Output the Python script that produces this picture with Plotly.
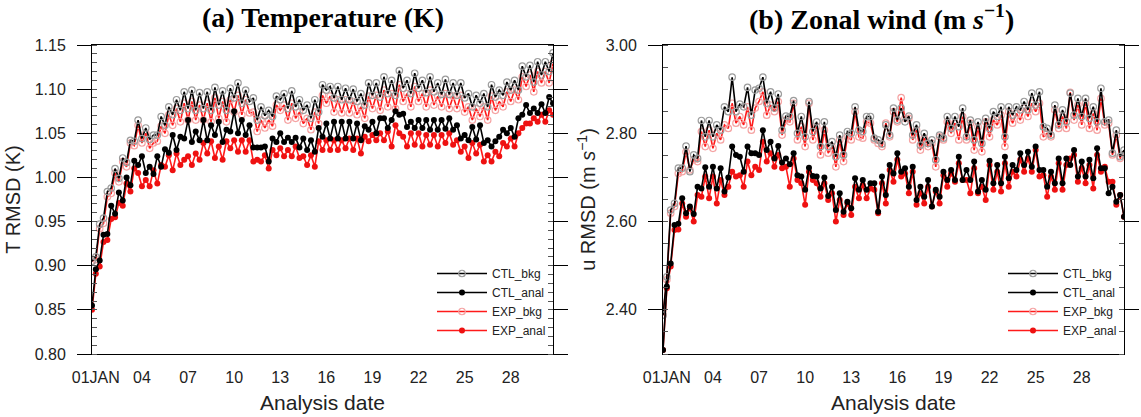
import pandas as pd
import plotly.graph_objects as go
from plotly.subplots import make_subplots

# 6-hourly analysis times (121 cycles)
times = pd.date_range("2020-12-31 18:00", periods=121, freq="6h")
tick_dates = ["2021-01-01", "2021-01-04", "2021-01-07", "2021-01-10", "2021-01-13",
              "2021-01-16", "2021-01-19", "2021-01-22", "2021-01-25", "2021-01-28"]
tick_labels = ["01JAN", "04", "07", "10", "13", "16", "19", "22", "25", "28"]
series_names = ["CTL_bkg", "CTL_anal", "EXP_bkg", "EXP_anal"]

# (a) Temperature RMSD (K)
t_ctl_bkg = [0.905, 0.910, 0.947, 0.954, 0.984, 0.988, 1.010, 0.999, 1.022, 1.017,
             1.042, 1.041, 1.065, 1.044, 1.056, 1.043, 1.048, 1.048, 1.069, 1.059,
             1.080, 1.071, 1.088, 1.076, 1.097, 1.078, 1.099, 1.076, 1.096, 1.078,
             1.097, 1.076, 1.102, 1.082, 1.098, 1.076, 1.101, 1.090, 1.107, 1.084,
             1.099, 1.086, 1.090, 1.065, 1.080, 1.070, 1.076, 1.069, 1.092, 1.088,
             1.095, 1.078, 1.098, 1.080, 1.088, 1.076, 1.082, 1.067, 1.088, 1.074,
             1.105, 1.099, 1.103, 1.090, 1.103, 1.088, 1.101, 1.088, 1.100, 1.086,
             1.095, 1.082, 1.107, 1.093, 1.107, 1.091, 1.114, 1.095, 1.110, 1.093,
             1.121, 1.101, 1.110, 1.095, 1.118, 1.101, 1.110, 1.096, 1.114, 1.097,
             1.107, 1.094, 1.111, 1.094, 1.107, 1.093, 1.107, 1.090, 1.095, 1.080,
             1.093, 1.084, 1.095, 1.080, 1.105, 1.091, 1.099, 1.093, 1.108, 1.099,
             1.110, 1.099, 1.126, 1.114, 1.127, 1.108, 1.131, 1.116, 1.131, 1.120,
             1.141]
t_ctl_anal = [0.855, 0.896, 0.906, 0.935, 0.936, 0.968, 0.959, 0.983, 0.974, 1.000,
              0.991, 1.019, 1.014, 1.024, 1.005, 1.012, 1.004, 1.024, 1.012, 1.032,
              1.028, 1.048, 1.031, 1.046, 1.044, 1.065, 1.040, 1.052, 1.042, 1.065,
              1.042, 1.059, 1.048, 1.063, 1.040, 1.054, 1.052, 1.075, 1.050, 1.065,
              1.048, 1.059, 1.034, 1.034, 1.034, 1.035, 1.018, 1.044, 1.040, 1.050,
              1.040, 1.045, 1.040, 1.045, 1.034, 1.044, 1.031, 1.042, 1.029, 1.056,
              1.046, 1.061, 1.044, 1.063, 1.044, 1.063, 1.044, 1.063, 1.044, 1.061,
              1.042, 1.058, 1.054, 1.063, 1.050, 1.067, 1.067, 1.056, 1.065, 1.075,
              1.071, 1.072, 1.057, 1.063, 1.056, 1.065, 1.056, 1.065, 1.054, 1.065,
              1.054, 1.065, 1.055, 1.067, 1.054, 1.059, 1.044, 1.048, 1.042, 1.057,
              1.043, 1.059, 1.039, 1.042, 1.035, 1.041, 1.046, 1.054, 1.050, 1.056,
              1.046, 1.067, 1.071, 1.082, 1.073, 1.078, 1.073, 1.083, 1.073, 1.091,
              1.084]
t_exp_bkg = [0.905, 0.907, 0.942, 0.948, 0.978, 0.982, 1.005, 0.995, 1.018, 1.012,
             1.039, 1.036, 1.059, 1.039, 1.050, 1.033, 1.039, 1.041, 1.058, 1.050,
             1.071, 1.059, 1.078, 1.063, 1.084, 1.065, 1.086, 1.065, 1.082, 1.065,
             1.084, 1.063, 1.090, 1.067, 1.086, 1.063, 1.088, 1.074, 1.093, 1.071,
             1.088, 1.073, 1.074, 1.052, 1.065, 1.056, 1.065, 1.058, 1.082, 1.076,
             1.082, 1.065, 1.084, 1.067, 1.074, 1.061, 1.067, 1.054, 1.074, 1.061,
             1.093, 1.084, 1.092, 1.074, 1.088, 1.073, 1.088, 1.073, 1.086, 1.071,
             1.080, 1.067, 1.092, 1.078, 1.093, 1.076, 1.099, 1.080, 1.095, 1.078,
             1.105, 1.086, 1.095, 1.080, 1.103, 1.086, 1.095, 1.080, 1.099, 1.082,
             1.092, 1.080, 1.095, 1.078, 1.092, 1.078, 1.093, 1.074, 1.080, 1.065,
             1.078, 1.069, 1.080, 1.065, 1.092, 1.076, 1.086, 1.080, 1.097, 1.086,
             1.099, 1.088, 1.114, 1.103, 1.116, 1.097, 1.120, 1.107, 1.120, 1.107,
             1.129]
t_exp_anal = [0.850, 0.891, 0.899, 0.927, 0.929, 0.953, 0.955, 0.971, 0.968, 0.993,
              0.984, 1.010, 1.005, 0.990, 0.997, 0.990, 1.008, 0.993, 1.014, 1.012,
              1.025, 1.008, 1.027, 1.014, 1.020, 1.024, 1.014, 1.027, 1.020, 1.039,
              1.027, 1.041, 1.022, 1.035, 1.020, 1.041, 1.033, 1.042, 1.029, 1.042,
              1.029, 1.042, 1.018, 1.020, 1.018, 1.025, 1.010, 1.031, 1.025, 1.033,
              1.024, 1.031, 1.024, 1.035, 1.022, 1.024, 1.014, 1.025, 1.012, 1.041,
              1.031, 1.042, 1.031, 1.042, 1.031, 1.042, 1.033, 1.044, 1.031, 1.044,
              1.027, 1.046, 1.041, 1.048, 1.042, 1.050, 1.042, 1.052, 1.035, 1.059,
              1.050, 1.046, 1.035, 1.050, 1.037, 1.050, 1.035, 1.048, 1.037, 1.048,
              1.035, 1.048, 1.039, 1.050, 1.037, 1.042, 1.029, 1.035, 1.022, 1.039,
              1.027, 1.037, 1.018, 1.025, 1.018, 1.029, 1.024, 1.039, 1.035, 1.044,
              1.035, 1.050, 1.056, 1.061, 1.061, 1.067, 1.063, 1.071, 1.063, 1.076,
              1.071]

# (b) Zonal wind RMSD (m s-1)
u_ctl_bkg = [2.388, 2.475, 2.626, 2.641, 2.721, 2.721, 2.771, 2.713, 2.751, 2.743,
             2.829, 2.792, 2.829, 2.792, 2.819, 2.807, 2.860, 2.849, 2.927, 2.849,
             2.866, 2.860, 2.904, 2.841, 2.898, 2.902, 2.927, 2.868, 2.894, 2.857,
             2.889, 2.807, 2.839, 2.838, 2.874, 2.800, 2.838, 2.792, 2.872, 2.804,
             2.826, 2.770, 2.826, 2.770, 2.781, 2.747, 2.796, 2.751, 2.804, 2.800,
             2.860, 2.807, 2.804, 2.838, 2.838, 2.789, 2.785, 2.776, 2.819, 2.796,
             2.857, 2.830, 2.857, 2.826, 2.839, 2.796, 2.819, 2.773, 2.800, 2.777,
             2.785, 2.740, 2.796, 2.789, 2.838, 2.811, 2.838, 2.815, 2.857, 2.792,
             2.830, 2.785, 2.826, 2.777, 2.834, 2.811, 2.849, 2.838, 2.860, 2.792,
             2.860, 2.841, 2.860, 2.853, 2.872, 2.853, 2.891, 2.864, 2.894, 2.815,
             2.811, 2.796, 2.864, 2.819, 2.853, 2.826, 2.891, 2.841, 2.879, 2.838,
             2.879, 2.834, 2.860, 2.826, 2.902, 2.826, 2.830, 2.755, 2.807, 2.747,
             2.762]
u_ctl_anal = [2.309, 2.453, 2.505, 2.592, 2.595, 2.653, 2.619, 2.634, 2.617, 2.679,
              2.675, 2.723, 2.679, 2.724, 2.675, 2.721, 2.668, 2.700, 2.770, 2.751,
              2.747, 2.713, 2.770, 2.755, 2.755, 2.751, 2.807, 2.762, 2.781, 2.743,
              2.771, 2.734, 2.743, 2.730, 2.755, 2.705, 2.702, 2.672, 2.722, 2.703,
              2.702, 2.675, 2.700, 2.658, 2.679, 2.626, 2.664, 2.622, 2.645, 2.630,
              2.698, 2.672, 2.694, 2.672, 2.687, 2.687, 2.622, 2.702, 2.660, 2.728,
              2.709, 2.755, 2.713, 2.721, 2.679, 2.724, 2.649, 2.679, 2.656, 2.694,
              2.634, 2.672, 2.656, 2.713, 2.694, 2.717, 2.694, 2.747, 2.694, 2.717,
              2.694, 2.736, 2.668, 2.694, 2.672, 2.738, 2.687, 2.728, 2.687, 2.747,
              2.698, 2.728, 2.717, 2.755, 2.728, 2.758, 2.724, 2.770, 2.717, 2.717,
              2.679, 2.713, 2.687, 2.743, 2.687, 2.743, 2.728, 2.762, 2.702, 2.736,
              2.702, 2.740, 2.698, 2.766, 2.721, 2.721, 2.664, 2.679, 2.645, 2.660,
              2.611]
u_exp_bkg = [2.388, 2.468, 2.619, 2.634, 2.709, 2.713, 2.758, 2.717, 2.740, 2.736,
             2.804, 2.770, 2.807, 2.766, 2.800, 2.785, 2.819, 2.811, 2.868, 2.823,
             2.838, 2.819, 2.860, 2.807, 2.857, 2.872, 2.894, 2.841, 2.864, 2.849,
             2.872, 2.796, 2.830, 2.826, 2.868, 2.785, 2.815, 2.770, 2.868, 2.785,
             2.815, 2.751, 2.807, 2.755, 2.770, 2.724, 2.785, 2.736, 2.792, 2.785,
             2.849, 2.792, 2.789, 2.826, 2.823, 2.785, 2.777, 2.770, 2.823, 2.792,
             2.849, 2.826, 2.881, 2.834, 2.834, 2.785, 2.807, 2.762, 2.789, 2.770,
             2.777, 2.724, 2.792, 2.785, 2.826, 2.800, 2.823, 2.785, 2.838, 2.785,
             2.823, 2.762, 2.815, 2.758, 2.826, 2.792, 2.830, 2.819, 2.841, 2.770,
             2.849, 2.823, 2.845, 2.830, 2.857, 2.838, 2.868, 2.849, 2.868, 2.792,
             2.800, 2.792, 2.853, 2.811, 2.838, 2.811, 2.893, 2.830, 2.864, 2.819,
             2.868, 2.811, 2.845, 2.807, 2.879, 2.819, 2.823, 2.751, 2.796, 2.743,
             2.751]
u_exp_anal = [2.309, 2.449, 2.498, 2.581, 2.582, 2.641, 2.611, 2.630, 2.600, 2.660,
              2.656, 2.702, 2.653, 2.702, 2.641, 2.694, 2.660, 2.679, 2.713, 2.702,
              2.705, 2.679, 2.736, 2.705, 2.724, 2.717, 2.781, 2.736, 2.755, 2.724,
              2.751, 2.721, 2.724, 2.679, 2.743, 2.694, 2.687, 2.638, 2.713, 2.694,
              2.687, 2.656, 2.687, 2.649, 2.664, 2.600, 2.649, 2.615, 2.641, 2.615,
              2.679, 2.653, 2.683, 2.653, 2.675, 2.672, 2.619, 2.687, 2.641, 2.717,
              2.690, 2.740, 2.702, 2.709, 2.664, 2.713, 2.638, 2.664, 2.641, 2.679,
              2.634, 2.668, 2.641, 2.705, 2.679, 2.709, 2.690, 2.732, 2.694, 2.694,
              2.664, 2.721, 2.664, 2.679, 2.649, 2.728, 2.672, 2.713, 2.668, 2.732,
              2.679, 2.713, 2.702, 2.740, 2.713, 2.743, 2.713, 2.762, 2.702, 2.705,
              2.656, 2.702, 2.672, 2.732, 2.672, 2.728, 2.743, 2.751, 2.690, 2.721,
              2.687, 2.728, 2.675, 2.751, 2.713, 2.724, 2.690, 2.690, 2.638, 2.660,
              2.611]

W, H = 1141, 417
fig = make_subplots(rows=1, cols=2)

styles = {
    "CTL_bkg": dict(line=dict(color="black", width=1.6),
                    marker=dict(symbol="circle-open", color="#9c9c9c", size=6.5, line=dict(width=1.2))),
    "CTL_anal": dict(line=dict(color="black", width=1.6),
                     marker=dict(symbol="circle", color="black", size=6)),
    "EXP_bkg": dict(line=dict(color="#ff1a1a", width=1.6),
                    marker=dict(symbol="circle-open", color="#f5a3a3", size=6.5, line=dict(width=1.2))),
    "EXP_anal": dict(line=dict(color="#ff1a1a", width=1.6),
                     marker=dict(symbol="circle", color="#ee1111", size=6)),
}
panels = [
    (1, "legend", {"CTL_bkg": t_ctl_bkg, "CTL_anal": t_ctl_anal, "EXP_bkg": t_exp_bkg, "EXP_anal": t_exp_anal}),
    (2, "legend2", {"CTL_bkg": u_ctl_bkg, "CTL_anal": u_ctl_anal, "EXP_bkg": u_exp_bkg, "EXP_anal": u_exp_anal}),
]
draw_order = ["EXP_bkg", "EXP_anal", "CTL_bkg", "CTL_anal"]
for col, leg, data in panels:
    for name in draw_order:
        fig.add_trace(go.Scatter(x=times, y=data[name], mode="lines+markers", name=name,
                                 legend=leg, legendrank=series_names.index(name) + 1,
                                 **styles[name]), row=1, col=col)

font_sans = "Liberation Sans, Arial, sans-serif"
xd1 = [92 / W, 553 / W]
xd2 = [663 / W, 1124 / W]
yd = [1 - 354 / H, 1 - 45 / H]

common_x = dict(range=[times[0], times[-1]], tickmode="array", tickvals=tick_dates, ticktext=tick_labels,
                showline=True, linecolor="black", linewidth=1, mirror=True, ticks="",
                showgrid=False, zeroline=False, ticklabelstandoff=9, automargin=False,
                tickfont=dict(family=font_sans, size=16, color="#222"),
                title=dict(text="Analysis date", font=dict(family=font_sans, size=21, color="#222"), standoff=10))
common_y = dict(showline=True, linecolor="black", linewidth=1, mirror="ticks", ticks="outside",
                ticklen=14, tickcolor="black", showgrid=False, zeroline=False, tickformat=".2f",
                automargin=False,
                tickfont=dict(family=font_sans, size=16, color="#222"), ticklabelstandoff=8)

fig.update_xaxes(domain=xd1, **common_x, row=1, col=1)
fig.update_xaxes(domain=xd2, **common_x, row=1, col=2)
fig.update_yaxes(domain=yd, range=[0.80, 1.15], tickvals=[0.80, 0.85, 0.90, 0.95, 1.00, 1.05, 1.10, 1.15],
                 minor=dict(dtick=0.01, ticks="inside", ticklen=5, tickcolor="#555", showgrid=False),
                 title=dict(text="T RMSD (K)", font=dict(family=font_sans, size=20, color="#222"), standoff=8),
                 **common_y, row=1, col=1)
fig.update_yaxes(domain=yd, range=[2.30, 3.00], tickvals=[2.40, 2.60, 2.80, 3.00],
                 minor=dict(dtick=0.05, tick0=2.30, ticks="inside", ticklen=5, tickcolor="#555", showgrid=False),
                 title=dict(text="u RMSD (m <i>s</i><sup>−1</sup>)", font=dict(family=font_sans, size=20, color="#222"), standoff=4),
                 **common_y, row=1, col=2)

title_font = dict(family="Liberation Serif, Times New Roman, serif", size=28, color="black")
fig.add_annotation(x=(xd1[0] + xd1[1]) / 2, y=1 - 18 / H, xref="paper", yref="paper",
                   xanchor="center", yanchor="middle",
                   text="<b>(a) Temperature (K)</b>", showarrow=False, font=title_font)
fig.add_annotation(x=(xd2[0] + xd2[1]) / 2 - 12 / W, y=1 - 18 / H, xref="paper", yref="paper",
                   xanchor="center", yanchor="middle",
                   text="<b>(b) Zonal wind (m <i>s</i><sup>−1</sup>)</b>", showarrow=False, font=title_font)

leg_common = dict(bgcolor="rgba(0,0,0,0)", borderwidth=0, xanchor="right", yanchor="top",
                  font=dict(family=font_sans, size=12, color="#222"), itemwidth=50,
                  tracegroupgap=0, traceorder="normal")
fig.update_layout(
    width=W, height=H, margin=dict(l=0, r=0, t=0, b=0, autoexpand=False),
    paper_bgcolor="white", plot_bgcolor="white", showlegend=True,
    legend=dict(x=551 / W, y=1 - 259 / H, **leg_common),
    legend2=dict(x=1122 / W, y=1 - 259 / H, **leg_common),
)
fig.write_html("out.html", config={"displayModeBar": False},
               post_script="document.body.style.margin='0px';document.body.style.overflow='hidden';")
